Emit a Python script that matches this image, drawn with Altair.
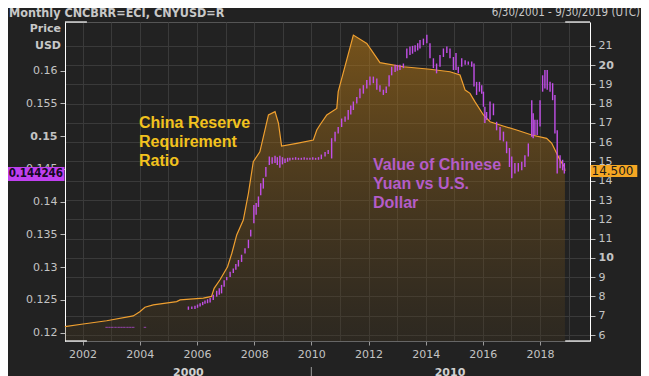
import altair as alt
import pandas as pd

# ---------------- data ----------------
# China reserve requirement ratio (%), right axis (decimal years)
rrr_t = [2001.38, 2002.02, 2002.84, 2003.77, 2004.00, 2004.18, 2004.47, 2005.29, 2005.41,
         2006.22, 2006.51, 2006.60, 2006.80, 2007.07, 2007.22, 2007.39, 2007.62, 2007.80,
         2007.97, 2008.20, 2008.50, 2008.73, 2008.85, 2008.96, 2009.49, 2010.07, 2010.19,
         2010.30, 2010.54, 2010.89, 2010.94, 2011.47, 2011.94, 2012.40, 2013.22, 2014.15,
         2014.85, 2015.20, 2015.38, 2015.55, 2015.72, 2016.02, 2016.25, 2016.71, 2017.18,
         2017.71, 2018.23, 2018.41, 2018.58, 2018.70, 2018.85, 2018.87]
rrr_v = [6.43, 6.57, 6.74, 6.99, 7.21, 7.44, 7.56, 7.73, 7.82,
         7.91, 8.00, 8.42, 8.85, 9.54, 10.24, 11.19, 11.96, 13.35,
         14.99, 15.50, 17.41, 17.58, 16.98, 15.80, 15.94, 16.11, 16.63,
         16.89, 17.41, 17.75, 18.62, 21.55, 21.12, 20.12, 19.91, 19.78,
         19.65, 19.48, 18.70, 18.53, 18.10, 17.41, 17.06, 16.84, 16.63,
         16.37, 16.20, 15.94, 15.42, 15.07, 14.73, 14.50]

# Value of the yuan in USD: monthly low/high bars, left axis
cny_t = [2005.70, 2005.82, 2005.93, 2006.02, 2006.11, 2006.20, 2006.28, 2006.37, 2006.46,
         2006.57, 2006.69, 2006.78, 2006.86, 2006.95, 2007.04, 2007.16, 2007.27, 2007.36,
         2007.45, 2007.56, 2007.68, 2007.80, 2007.88, 2007.99, 2008.07, 2008.15, 2008.23,
         2008.32, 2008.41, 2008.53, 2008.63, 2008.73, 2008.81, 2008.90, 2008.99, 2009.08,
         2009.17, 2009.25, 2009.35, 2009.45, 2009.55, 2009.65, 2009.75, 2009.85, 2009.95,
         2010.05, 2010.15, 2010.25, 2010.35, 2010.48, 2010.59, 2010.71, 2010.83, 2010.94,
         2011.06, 2011.18, 2011.29, 2011.38, 2011.47, 2011.59, 2011.70, 2011.82, 2011.94,
         2012.05, 2012.17, 2012.29, 2012.40, 2012.52, 2012.62, 2012.72, 2012.81, 2012.93,
         2013.01, 2013.10, 2013.22, 2013.34, 2013.45, 2013.54, 2013.63, 2013.72, 2013.80,
         2013.92, 2014.04, 2014.15, 2014.27, 2014.38, 2014.50, 2014.62, 2014.74, 2014.85,
         2014.97, 2015.06, 2015.14, 2015.26, 2015.38, 2015.49, 2015.61, 2015.69, 2015.78,
         2015.88, 2015.96, 2016.02, 2016.07, 2016.13, 2016.25, 2016.37, 2016.48, 2016.60,
         2016.72, 2016.83, 2016.93, 2017.01, 2017.12, 2017.24, 2017.36, 2017.47, 2017.59,
         2017.71, 2017.76, 2017.82, 2017.90, 2018.00, 2018.09, 2018.17, 2018.25, 2018.35,
         2018.44, 2018.52, 2018.60, 2018.70, 2018.79, 2018.85]
cny_low = [0.1235, 0.1236, 0.1236, 0.1238, 0.1240, 0.1242, 0.1244, 0.1245, 0.1246,
           0.1250, 0.1255, 0.1258, 0.1260, 0.1270, 0.1280, 0.1285, 0.1291, 0.1296,
           0.1301, 0.1308, 0.1321, 0.1329, 0.1347, 0.1367, 0.1380, 0.1392, 0.1410,
           0.1420, 0.1438, 0.1456, 0.1458, 0.1459, 0.1456, 0.1452, 0.1457, 0.1459,
           0.1461, 0.1463, 0.1464, 0.1464, 0.1464, 0.1464, 0.1464, 0.1464, 0.1464,
           0.1464, 0.1464, 0.1464, 0.1465, 0.1469, 0.1473, 0.1466, 0.1492, 0.1504,
           0.1514, 0.1522, 0.1525, 0.1533, 0.1540, 0.1550, 0.1558, 0.1565, 0.1573,
           0.1578, 0.1581, 0.1571, 0.1568, 0.1563, 0.1566, 0.1576, 0.1593, 0.1598,
           0.1600, 0.1601, 0.1604, 0.1619, 0.1624, 0.1626, 0.1629, 0.1631, 0.1634,
           0.1639, 0.1642, 0.1619, 0.1604, 0.1596, 0.1606, 0.1621, 0.1627, 0.1619,
           0.1601, 0.1601, 0.1596, 0.1606, 0.1609, 0.1609, 0.1606, 0.1576, 0.1563,
           0.1568, 0.1565, 0.1545, 0.1520, 0.1525, 0.1525, 0.1532, 0.1509, 0.1494,
           0.1492, 0.1474, 0.1453, 0.1436, 0.1443, 0.1446, 0.1448, 0.1453, 0.1469,
           0.1499, 0.1497, 0.1502, 0.1502, 0.1515, 0.1568, 0.1573, 0.1571, 0.1568,
           0.1555, 0.1504, 0.1443, 0.1451, 0.1448, 0.1443]
cny_high = [0.1240, 0.1240, 0.1241, 0.1243, 0.1245, 0.1247, 0.1249, 0.1251, 0.1253,
            0.1258, 0.1264, 0.1268, 0.1273, 0.1280, 0.1285, 0.1293, 0.1298, 0.1305,
            0.1311, 0.1319, 0.1329, 0.1342, 0.1357, 0.1395, 0.1398, 0.1408, 0.1428,
            0.1436, 0.1453, 0.1469, 0.1468, 0.1470, 0.1468, 0.1470, 0.1468, 0.1466,
            0.1467, 0.1467, 0.1467, 0.1468, 0.1467, 0.1467, 0.1468, 0.1467, 0.1467,
            0.1468, 0.1467, 0.1468, 0.1472, 0.1476, 0.1479, 0.1497, 0.1507, 0.1514,
            0.1527, 0.1530, 0.1540, 0.1547, 0.1553, 0.1560, 0.1573, 0.1578, 0.1586,
            0.1591, 0.1591, 0.1588, 0.1578, 0.1571, 0.1576, 0.1593, 0.1606, 0.1609,
            0.1609, 0.1609, 0.1611, 0.1634, 0.1637, 0.1638, 0.1639, 0.1642, 0.1647,
            0.1649, 0.1655, 0.1642, 0.1619, 0.1611, 0.1624, 0.1634, 0.1637, 0.1634,
            0.1621, 0.1627, 0.1606, 0.1619, 0.1616, 0.1614, 0.1614, 0.1611, 0.1583,
            0.1583, 0.1578, 0.1568, 0.1545, 0.1537, 0.1553, 0.1550, 0.1522, 0.1514,
            0.1507, 0.1492, 0.1482, 0.1469, 0.1459, 0.1459, 0.1461, 0.1471, 0.1489,
            0.1555, 0.1535, 0.1525, 0.1525, 0.1555, 0.1593, 0.1601, 0.1601, 0.1583,
            0.1581, 0.1563, 0.1509, 0.1471, 0.1464, 0.1459]

# pegged period: single monthly prints (drawn as short dashes)
peg_t = [2002.84, 2002.94, 2003.04, 2003.15, 2003.26, 2003.36, 2003.46, 2003.57,
         2003.67, 2003.77, 2004.18]
peg_v = [0.12082] * len(peg_t)

last_cny = 0.144246
last_rrr = 14.5

year_ticks = list(range(2001, 2020))
left_ticks = [0.12, 0.125, 0.13, 0.135, 0.14, 0.145, 0.15, 0.155, 0.16]
right_ticks = list(range(6, 22))
decade_labels = ["2000", "2010"]
decade_mid = [2005.7, 2014.85]
decade_break = [2010]
white_frame_t0 = [2001.384, 2018.88]
white_frame_t1 = [2002.15, 2019.747]

X_DOMAIN = [2001.384, 2019.747]
YL_DOMAIN = [0.11873, 0.16744]
YR_DOMAIN = [5.689, 22.23]
W, H = 525, 319

BG = "#222222"
GRID = "#3a3a3a"
LABEL = "#c4c4c4"
ORANGE = "#f0a030"
PURPLE = "#c24fe8"
FONT = "DejaVu Sans"

# ---------------- axes / scales ----------------
x_scale = alt.Scale(domain=X_DOMAIN, nice=False, zero=False)
x_axis = alt.Axis(values=year_ticks, format="d", grid=True, gridColor=GRID, title=None,
                  labelExpr="datum.value % 2 == 0 ? datum.label : ''",
                  tickOpacity={"condition": {"test": "datum.value % 2 == 0", "value": 1}, "value": 0},
                  domainColor="#666666", tickColor="#9a9a9a", tickSize=4, labelPadding=3,
                  labelColor=LABEL, labelFont=FONT, labelFontSize=11)
yl_scale = alt.Scale(domain=YL_DOMAIN, nice=False, zero=False)
yl_axis = alt.Axis(orient="left", values=left_ticks, format=".3~f", grid=False, title=None,
                   domainColor="#ffffff", tickColor="#bbbbbb", tickSize=5, labelPadding=3,
                   labelColor=LABEL, labelFont=FONT, labelFontSize=11,
                   labelFontWeight={"condition": {"test": "abs(datum.value - 0.15) < 1e-9", "value": "bold"},
                                    "value": "normal"})
yr_scale = alt.Scale(domain=YR_DOMAIN, nice=False, zero=False)
yr_axis = alt.Axis(orient="right", values=right_ticks, format="d", grid=True, gridColor=GRID, title=None,
                   domainColor="#ffffff", tickColor="#bbbbbb", tickSize=5, labelPadding=3,
                   labelColor=LABEL, labelFont=FONT, labelFontSize=11,
                   labelFontWeight={"condition": {"test": "datum.value == 10 || datum.value == 20", "value": "bold"},
                                    "value": "normal"})


def X(field="t"):
    return alt.X(f"{field}:Q", scale=x_scale, axis=x_axis)


def YL(field):
    return alt.Y(f"{field}:Q", scale=yl_scale, axis=yl_axis)


def YR(field):
    return alt.Y(f"{field}:Q", scale=yr_scale, axis=yr_axis)


# ---------------- orange: reserve requirement ratio ----------------
rrr_df = pd.DataFrame({"t": rrr_t, "v": rrr_v, "base": [YR_DOMAIN[0]] * len(rrr_t)})
grad = alt.Gradient(gradient="linear", x1=0, x2=0, y1=0, y2=1,
                    stops=[alt.GradientStop(color="rgba(200,130,20,0.5)", offset=0),
                           alt.GradientStop(color="rgba(70,55,30,0.3)", offset=1)])
area = alt.Chart(rrr_df).mark_area(fill=grad, opacity=1, interpolate="linear", clip=True).encode(
    x=X(), y=YR("v"), y2="base:Q")
line = alt.Chart(rrr_df).mark_line(color=ORANGE, strokeWidth=1.2).encode(x=X(), y=YR("v"))
rlab_df = pd.DataFrame({"t": [X_DOMAIN[1]], "v": [last_rrr], "label": [f"{last_rrr:.3f}"]})
rbox = alt.Chart(rlab_df).mark_point(shape="M0,-1L7.8,-1L7.8,1L0,1Z", size=144, filled=True,
                                     opacity=1, color="#f5a623", strokeWidth=0).encode(
    x=alt.value(W + 0.5), y=YR("v"))
rtext = alt.Chart(rlab_df).mark_text(align="left", baseline="middle", font=FONT, fontSize=12,
                                     color="#1a1a1a").encode(
    x=alt.value(W + 1.5), y=YR("v"), text="label:N")
orange = alt.layer(area, line, rbox, rtext)

# ---------------- purple: CNY/USD ----------------
cny_df = pd.DataFrame({"t": cny_t, "low": cny_low, "high": cny_high})
bars = alt.Chart(cny_df).mark_rule(color=PURPLE, strokeWidth=1.4).encode(
    x=X(), y=YL("low"), y2="high:Q")
peg_df = pd.DataFrame({"t": peg_t, "low": peg_v})
pegs = alt.Chart(peg_df).mark_tick(orient="horizontal", color=PURPLE, size=2.5, thickness=1).encode(
    x=X(), y=YL("low"))
llab_df = pd.DataFrame({"t": [X_DOMAIN[0]], "low": [last_cny], "label": [f"{last_cny}"]})
lbox = alt.Chart(llab_df).mark_point(shape="M-9.3,-1L0,-1L0,1L-9.3,1Z", size=196, filled=True,
                                     opacity=1, color="#c040f0", strokeWidth=0).encode(
    x=alt.value(-0.5), y=YL("low"))
ltext = alt.Chart(llab_df).mark_text(align="right", baseline="middle", font="DejaVu Sans Condensed",
                                     fontSize=11.5, fontWeight="bold", color="#140a24").encode(
    x=alt.value(-2), y=YL("low"), text="label:N")
purple = alt.layer(bars, pegs, lbox, ltext)

# ---------------- decorations / texts ----------------
one = pd.DataFrame({"a": [0]})
frame_df = pd.DataFrame({"t": white_frame_t0, "t1": white_frame_t1})
frame_top = alt.Chart(frame_df).mark_rule(color="#ffffff", strokeWidth=1.2).encode(
    x=X(), x2="t1:Q", y=alt.value(0))
frame_bot = alt.Chart(frame_df).mark_rule(color="#ffffff", strokeWidth=1.2).encode(
    x=X(), x2="t1:Q", y=alt.value(H))

dec_df = pd.DataFrame({"t": decade_mid, "label": decade_labels})
dec_text = alt.Chart(dec_df).mark_text(baseline="top", font=FONT, fontSize=11, fontWeight="bold",
                                       color="#d0d0d0").encode(
    x=X(), y=alt.value(H + 26), text="label:N")
brk_df = pd.DataFrame({"t": decade_break})
dec_break = alt.Chart(brk_df).mark_rule(color="#9a9a9a", strokeWidth=1).encode(
    x=X(), y=alt.value(H + 26), y2=alt.value(H + 45))


def txt(text, x, y, **kw):
    return alt.Chart(one).mark_text(**kw).encode(x=alt.value(x), y=alt.value(y), text=alt.value(text))


title_l = txt("Monthly CNCBRR=ECI, CNYUSD=R", -56, -9, align="left", baseline="middle",
              font="DejaVu Sans Condensed", fontSize=12.5, fontWeight="bold", color="#c8c8c8")
title_r = txt("6/30/2001 - 9/30/2019 (UTC)", 575, -9, align="right", baseline="middle",
              font="DejaVu Sans Condensed", fontSize=11.5, color="#c8c8c8")
price = txt("Price", -4, 7, align="right", baseline="middle", font=FONT, fontSize=11,
            fontWeight="bold", color="#c8c8c8")
usd = txt("USD", -4, 24, align="right", baseline="middle", font=FONT, fontSize=11,
          fontWeight="bold", color="#c8c8c8")
ann_rrr = txt(["China Reserve", "Requirement", "Ratio"], 74, 101, align="left", baseline="middle",
              font="Liberation Sans", fontSize=16, fontWeight="bold", color="#f2c21e", lineHeight=19)
ann_cny = txt(["Value of Chinese", "Yuan vs U.S.", "Dollar"], 308, 143, align="left", baseline="middle",
              font="Liberation Sans", fontSize=16, fontWeight="bold", color="#b45cc8", lineHeight=19)

chart = alt.layer(
    orange, purple, frame_top, frame_bot, dec_text, dec_break,
    title_l, title_r, price, usd, ann_rrr, ann_cny
).resolve_scale(y="independent").properties(
    width=W, height=H, background=BG, autosize="none",
    padding={"left": 57, "top": 14, "right": 51, "bottom": 40}
).configure_view(stroke="#555555", strokeWidth=1)

chart.save("out.html", embed_options={"renderer": "svg", "actions": False})
